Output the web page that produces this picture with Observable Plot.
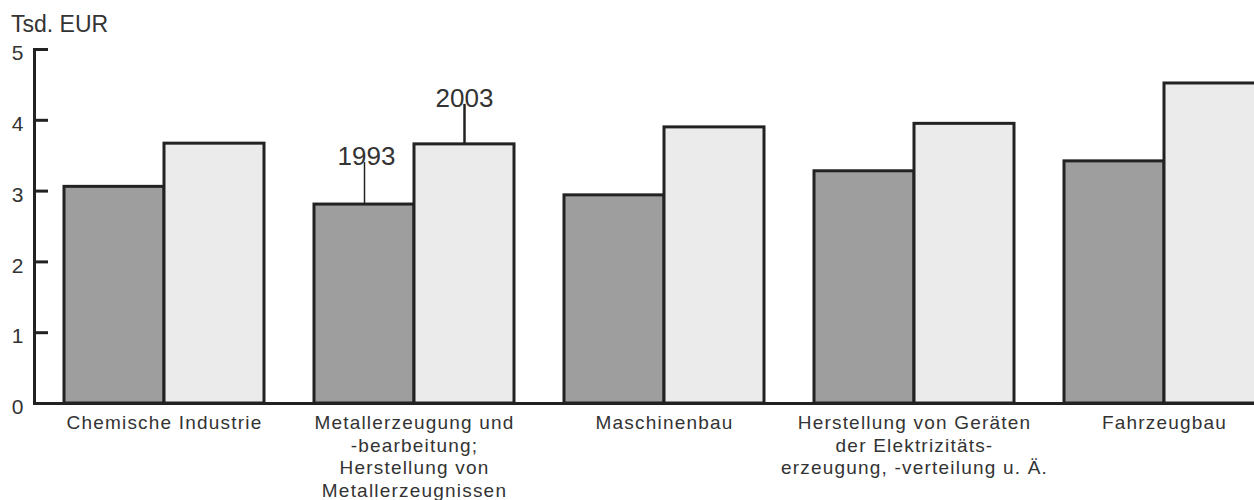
<!DOCTYPE html>
<html>
<head>
<meta charset="utf-8">
<script src="https://cdn.jsdelivr.net/npm/d3@7"></script>
<script src="https://cdn.jsdelivr.net/npm/@observablehq/plot@0.6"></script>
<style>
  html, body { margin: 0; padding: 0; background: #fff; }
  #wrap { position: relative; width: 1254px; height: 500px; overflow: hidden; font-family: "Liberation Sans", Arial, sans-serif; }
  #unit { position: absolute; left: 11px; top: 11px; font-size: 23px; color: #333; }
  #chart { position: absolute; left: 0; top: 0; }
  #chart g[aria-label="x-axis tick label"] text { letter-spacing: 1.2px; }
</style>
</head>
<body>
<div id="wrap">
  <div id="chart"></div>
  <div id="unit">Tsd. EUR</div>
</div>
<script>
const categories = [
  "Chemische Industrie",
  "Metallerzeugung und -bearbeitung; Herstellung von Metallerzeugnissen",
  "Maschinenbau",
  "Herstellung von Geräten der Elektrizitätserzeugung, -verteilung u. Ä.",
  "Fahrzeugbau"
];
const xLabels = [
  "Chemische Industrie",
  "Metallerzeugung und\n-bearbeitung;\nHerstellung von\nMetallerzeugnissen",
  "Maschinenbau",
  "Herstellung von Geräten\nder Elektrizitäts-\nerzeugung, -verteilung u. Ä.",
  "Fahrzeugbau"
];
const values1993 = [3.06, 2.81, 2.94, 3.28, 3.42];
const values2003 = [3.67, 3.66, 3.90, 3.95, 4.52];
const yTicks = [0, 1, 2, 3, 4, 5];
const seriesNames = ["1993", "2003"];
const annotatedCategory = categories[1];

const rows = categories.map((c, i) => ({category: c, v1993: values1993[i], v2003: values2003[i]}));
const ann = rows.filter(d => d.category === annotatedCategory);

const W = 1294, H = 500, ML = 34, MR = 0, MT = 49, MB = 97;
const textColor = "#333";
const lineColor = "#222";

const plot = Plot.plot({
  width: W,
  height: H,
  marginLeft: ML,
  marginRight: MR,
  marginTop: MT,
  marginBottom: MB,
  style: {fontFamily: "Liberation Sans, Arial, sans-serif", color: textColor, maxWidth: "none", overflow: "visible", background: "white"},
  x: {domain: categories, paddingInner: 0.2, paddingOuter: 0.12, axis: null, label: null},
  y: {domain: [0, 5], axis: null, label: null},
  marks: [
    Plot.barY(rows, {x: "category", y: "v1993", fill: "#9e9e9e", stroke: lineColor, strokeWidth: 3, insetRight: 100}),
    Plot.barY(rows, {x: "category", y: "v2003", fill: "#ebebeb", stroke: lineColor, strokeWidth: 3, insetLeft: 100}),
    Plot.ruleY([0], {stroke: lineColor, strokeWidth: 3}),
    Plot.frame({anchor: "left", stroke: lineColor, strokeWidth: 3}),
    Plot.ruleY(yTicks.filter(d => d > 0), {y: d => d, stroke: lineColor, strokeWidth: 3, insetRight: (W - ML - MR) - 14}),
    Plot.axisY(yTicks, {tickSize: 0, tickPadding: 11, fontSize: 21, dy: 4, fill: textColor, tickFormat: d3.format("d"), label: null}),
    Plot.axisX({tickSize: 0, tickPadding: 10, fontSize: 19, lineHeight: 1.18, fill: textColor, tickFormat: (d) => xLabels[categories.indexOf(d)], label: null}),
    Plot.ruleX(ann, {x: "category", y1: "v1993", y2: "v1993", insetBottom: 42, dx: -50, stroke: lineColor, strokeWidth: 1.5}),
    Plot.ruleX(ann, {x: "category", y1: "v2003", y2: "v2003", insetBottom: 40, dx: 50, stroke: lineColor, strokeWidth: 2.5}),
    Plot.text(ann, {x: "category", y: "v1993", text: () => seriesNames[0], dx: -48, dy: -48, fontSize: 26, fill: textColor}),
    Plot.text(ann, {x: "category", y: "v2003", text: () => seriesNames[1], dx: 50, dy: -46, fontSize: 26, fill: textColor})
  ]
});
document.getElementById("chart").appendChild(plot);
</script>
</body>
</html>
